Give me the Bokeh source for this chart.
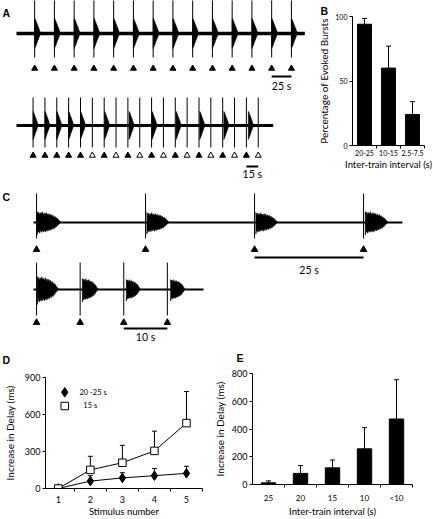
from bokeh.plotting import figure
from bokeh.models import (Range1d, FixedTicker, Whisker, TeeHead, Title,
                          ColumnDataSource)
from bokeh.layouts import column, row
from bokeh.embed import file_html
from bokeh.resources import INLINE
from bokeh.core.properties import value

# ---------------------------------------------------------------- data
# Panel A, upper record (trains every 25 s); times in s from record start
a1_record = [0, 365]
a1_stim = [23, 48, 73, 98, 123, 148, 173, 198, 223, 248, 273, 298, 323, 348]
a1_evoked = [1, 1, 1, 1, 1, 1, 1, 1, 1, 1, 1, 1, 1, 1]
a1_delay = [0, 0, 0, 0, 0, 0, 0, 0, 0, 0, 0, 0, 0, 0]
a1_scale_s = 25

# Panel A, lower record (trains every 15 s); 0 = no burst evoked
a2_record = [0, 325]
a2_stim = [21, 36, 51, 66, 81, 96, 111, 126, 141, 156,
           171, 186, 201, 216, 231, 246, 261, 276, 291, 306]
a2_evoked = [1, 1, 1, 1, 1, 0, 1, 0, 1, 0, 1, 0, 1, 0, 1, 0, 1, 0, 1, 0]
a2_delay = [0, 0, 0, 0, 0, 0, 0.5, 0, 1.5, 0, 0.5, 0, 1.0, 0, 1.0, 0, 1.5, 0, 2.5, 0]
a2_scale_s = 15

# Panel B
b_cats = ["20-25", "10-15", "2.5-7.5"]
b_mean = [94, 60, 24]
b_err = [4.5, 17, 10]

# Panel C, upper record (25 s)
c1_record = [0, 84.6]
c1_stim = [0.7, 25.7, 50.7, 75.7]
c1_delay = [0.1, 0.3, 0.3, 0.4]
c1_dur = [5.5, 5.1, 5.0, 5.2]
c1_amp = [11, 10, 10, 11]
c1_scale_s = 25

# Panel C, lower record (10 s)
c2_record = [0, 39]
c2_stim = [0.7, 10.7, 20.7, 30.7]
c2_delay = [0.15, 0.5, 0.6, 0.75]
c2_dur = [4.9, 3.6, 3.2, 3.3]
c2_amp = [13, 11, 10, 10]
c2_scale_s = 10

# burst envelopes (normalised time, upper / lower amplitude)
envA_t = [0.0, 0.1, 0.25, 0.4, 0.55, 0.7, 0.85, 1.0]
envA_up = [1.0, 0.95, 0.8, 0.65, 0.5, 0.35, 0.18, 0.0]
envA_lo = [1.0, 0.9, 0.78, 0.6, 0.45, 0.3, 0.15, 0.0]

envC_t = [0, .03, .07, .10, .14, .18, .22, .26, .30, .34, .38, .42, .46,
          .50, .54, .58, .62, .66, .70, .74, .78, .82, .86, .90, .94, 1.0]
envC_up = [1.0, .74, .95, .70, .90, .76, .98, .72, .86, .68, .90, .66, .82,
           .62, .78, .58, .72, .52, .62, .44, .52, .34, .38, .20, .18, 0]
envC_lo = [1.15, .88, .76, .97, .70, .90, .74, .84, .66, .88, .68, .80, .62,
           .76, .58, .70, .52, .62, .46, .54, .36, .38, .24, .20, .08, 0]

# Panel D
d_stim = [1, 2, 3, 4, 5]
d_slow = [0, 60, 86, 104, 123]        # 20-25 s
d_slow_err = [0, 44, 42, 58, 57]
d_fast = [0, 151, 209, 305, 530]      # 15 s
d_fast_err = [0, 110, 141, 160, 256]
d_labels = ["20 -25 s", "\u00a0\u00a015 s"]

# Panel E
e_cats = ["25", "20", "15", "10", "<10"]
e_mean = [12, 80, 120, 257, 472]
e_err = [14, 57, 57, 153, 283]

# ---------------------------------------------------------------- style
INK = "#000000"
FONT = "Lato"
BOLD = "Liberation Sans"


def trace_fig(w, h, xr, yr):
    p = figure(width=w, height=h, x_range=Range1d(*xr), y_range=Range1d(*yr),
               x_axis_location=None, y_axis_location=None, title=None,
               output_backend="svg", toolbar_location=None, tools="",
               min_border=0, frame_align=False)
    p.min_border_left = p.min_border_right = 0
    p.min_border_top = p.min_border_bottom = 0
    p.outline_line_color = None
    p.grid.visible = False
    return p


def axis_fig(w, h, xr, yr, l, r, t, b):
    p = figure(width=w, height=h, x_range=Range1d(*xr), y_range=Range1d(*yr),
               title=None, output_backend="svg", toolbar_location=None, tools="",
               min_border_left=l, min_border_right=r, min_border_top=t,
               min_border_bottom=b, frame_align=False)
    p.outline_line_color = None
    p.grid.visible = False
    for ax in (p.xaxis[0], p.yaxis[0]):
        ax.axis_line_color = INK
        ax.axis_line_width = 1
        ax.major_tick_line_color = INK
        ax.minor_tick_line_color = INK
        ax.major_tick_in = 0
        ax.minor_tick_in = 0
        ax.major_label_text_font = FONT
        ax.major_label_text_color = INK
        ax.axis_label_text_font = FONT
        ax.axis_label_text_font_style = "normal"
        ax.axis_label_text_color = INK
    return p


def panel_title(p, text, offset, standoff):
    p.add_layout(Title(text=text, align="left", offset=offset, standoff=standoff,
                       text_font=BOLD, text_font_style="bold",
                       text_font_size="10.5px", text_color=INK), "above")


def panel_text(p, text, x, y):
    p.text(x=[x], y=[y], text=[text], text_baseline="middle", text_align="left",
           text_font=value(BOLD), text_font_style="bold",
           text_font_size="10.5px", text_color=INK)


def draw_record(p, base, record, stim, evoked, delay, dur, amp, env,
                up, down, lw, arrow_y, arrow_size, bar_s, bar_y, lab_y):
    et, eu, el = env
    n = len(stim)
    p.line(x=record, y=[base, base], line_color=INK, line_width=lw)
    xs, ys = [], []
    for s, ev, d, L, a in zip(stim, evoked, delay, dur, amp):
        if not ev:
            continue
        t0 = s + d
        tx = [t0 + L * e for e in et]
        xs.append(tx + tx[::-1])
        ys.append([base + a * u for u in eu] + [base - a * q for q in el][::-1])
    p.patches(xs, ys, fill_color=INK, line_color=INK, line_width=0.6)
    p.segment(x0=stim, y0=[base + up] * n, x1=stim, y1=[base - down] * n,
              line_color=INK, line_width=1)
    p.scatter(x=stim, y=[arrow_y] * n, marker="triangle", size=arrow_size,
              fill_color=[INK if e else "white" for e in evoked],
              line_color=INK, line_width=1)
    x0 = stim[-2]
    p.segment(x0=[x0], y0=[bar_y], x1=[x0 + bar_s], y1=[bar_y],
              line_color=INK, line_width=2)
    p.text(x=[x0 + bar_s / 2], y=[lab_y], text=["%d s" % bar_s],
           text_align="center", text_baseline="middle",
           text_font=value(FONT), text_font_size="10.5px", text_color=INK)


# ---------------------------------------------------------------- Panel A
PX_A = 0.79  # px per second
fa = trace_fig(312, 178, (-16 / PX_A, (312 - 16) / PX_A), (-145, 33))
envA = (envA_t, envA_up, envA_lo)
draw_record(fa, 0, a1_record, a1_stim, a1_evoked, a1_delay,
            [7.5] * len(a1_stim), [15] * len(a1_stim), envA, 36, 24, 3.5,
            -35, 6, a1_scale_s, -43, -52)
draw_record(fa, -92, a2_record, a2_stim, a2_evoked, a2_delay,
            [6.5] * len(a2_stim), [14] * len(a2_stim), envA, 28, 22, 3,
            -122, 6, a2_scale_s, -133, -140)
panel_text(fa, "A", -14 / PX_A, 21)

# ---------------------------------------------------------------- Panel B
fb = axis_fig(121, 178, (0.5, 3.5), (0, 100), 40, 9, 16, 33)
b_x = [1, 2, 3]
bsrc = ColumnDataSource(dict(x=b_x, top=b_mean,
                             upper=[m + e for m, e in zip(b_mean, b_err)]))
fb.vbar(x="x", top="top", width=0.58, source=bsrc, fill_color=INK, line_color=INK)
fb.add_layout(Whisker(base="x", lower="top", upper="upper", source=bsrc,
                      line_color=INK, line_width=1, lower_head=None,
                      upper_head=TeeHead(size=5, line_color=INK, line_width=1)))
xa = fb.xaxis[0]
xa.ticker = FixedTicker(ticks=b_x, minor_ticks=[1.5, 2.5, 3.5])
xa.major_label_overrides = {x: c for x, c in zip(b_x, b_cats)}
xa.major_tick_out = 0
xa.minor_tick_out = 3
xa.major_label_text_font_size = "7px"
xa.major_label_standoff = 1
xa.axis_label = "Inter-train interval (s)"
xa.axis_label_text_font_size = "9.5px"
xa.axis_label_standoff = 0
ya = fb.yaxis[0]
ya.ticker = FixedTicker(ticks=[0, 50, 100])
ya.major_tick_out = 3
ya.minor_tick_out = 0
ya.major_label_text_font_size = "7px"
ya.major_label_standoff = 2
ya.axis_label = "Percentage of Evoked Bursts"
ya.axis_label_text_font_size = "10px"
ya.axis_label_standoff = 2
panel_title(fb, "B", -32, 0)

# ---------------------------------------------------------------- Panel C
# (this canvas also carries the D / E panel letters just below the records)
PX_C = 4.36
fc = trace_fig(433, 189, (-33 / PX_C, (433 - 33) / PX_C), (-145, 44))
envC = (envC_t, envC_up, envC_lo)
draw_record(fc, 0, c1_record, c1_stim, [1] * 4, c1_delay, c1_dur, c1_amp, envC,
            29, 16, 2, -27, 6.5, c1_scale_s, -35, -47)
draw_record(fc, -67, c2_record, c2_stim, [1] * 4, c2_delay, c2_dur, c2_amp, envC,
            27, 26, 2, -100, 6.5, c2_scale_s, -106, -114)
panel_text(fc, "C", -31 / PX_C, 26)
panel_text(fc, "D", -31 / PX_C, -137)
panel_text(fc, "E", 203 / PX_C, -135.5)

# ---------------------------------------------------------------- Panel D
fd = axis_fig(210, 152, (0.6, 5.5), (0, 900), 40, 8, 10, 29)
fd.line(x=d_stim, y=d_fast, line_color=INK, line_width=1)
fd.line(x=d_stim, y=d_slow, line_color=INK, line_width=1)
for yv, ev in ((d_fast, d_fast_err), (d_slow, d_slow_err)):
    src = ColumnDataSource(dict(x=d_stim, y=yv, up=[a + b for a, b in zip(yv, ev)]))
    fd.add_layout(Whisker(base="x", lower="y", upper="up", source=src,
                          line_color=INK, line_width=1, lower_head=None,
                          upper_head=TeeHead(size=5, line_color=INK, line_width=1)))
fd.scatter(x=d_stim, y=d_slow, marker="diamond", size=9.5,
           fill_color=INK, line_color=INK)
fd.scatter(x=d_stim, y=d_fast, marker="square", size=7.5,
           fill_color="white", line_color=INK, line_width=1)
# legend key (upper-left corner of the plot area)
key_x = [1.2, 1.2]
key_y = [780, 669]
fd.scatter(x=key_x[:1], y=key_y[:1], marker="diamond", size=9.5,
           fill_color=INK, line_color=INK)
fd.scatter(x=key_x[1:], y=key_y[1:], marker="square", size=7.5,
           fill_color="white", line_color=INK, line_width=1)
fd.text(x=[1.66, 1.66], y=key_y, text=d_labels, text_baseline="middle",
        text_font=value(FONT), text_font_size="7.5px", text_color=INK)
xa = fd.xaxis[0]
xa.ticker = FixedTicker(ticks=d_stim, minor_ticks=[1.5, 2.5, 3.5, 4.5, 5.5])
xa.major_tick_out = 0
xa.minor_tick_out = 3
xa.major_label_text_font_size = "9px"
xa.major_label_standoff = 4
xa.axis_label = "Stimulus number"
xa.axis_label_text_font_size = "9.5px"
xa.axis_label_standoff = 0
ya = fd.yaxis[0]
ya.ticker = FixedTicker(ticks=[0, 300, 600, 900])
ya.major_tick_out = 3
ya.minor_tick_out = 0
ya.major_label_text_font_size = "9px"
ya.major_label_standoff = 2
ya.axis_label = "Increase in Delay (ms)"
ya.axis_label_text_font_size = "10px"
ya.axis_label_standoff = 6

# ---------------------------------------------------------------- Panel E
fe = axis_fig(223, 152, (0.5, 5.5), (0, 800), 42, 21, 6, 29)
e_x = [1, 2, 3, 4, 5]
esrc = ColumnDataSource(dict(x=e_x, top=e_mean,
                             upper=[m + e for m, e in zip(e_mean, e_err)]))
fe.vbar(x="x", top="top", width=0.45, source=esrc, fill_color=INK, line_color=INK)
fe.add_layout(Whisker(base="x", lower="top", upper="upper", source=esrc,
                      line_color=INK, line_width=1, lower_head=None,
                      upper_head=TeeHead(size=5, line_color=INK, line_width=1)))
xa = fe.xaxis[0]
xa.ticker = FixedTicker(ticks=e_x, minor_ticks=[1.5, 2.5, 3.5, 4.5, 5.5])
xa.major_label_overrides = {x: c for x, c in zip(e_x, e_cats)}
xa.major_tick_out = 0
xa.minor_tick_out = 3
xa.major_label_text_font_size = "8px"
xa.major_label_standoff = 5
xa.axis_label = "Inter-train interval (s)"
xa.axis_label_text_font_size = "9.5px"
xa.axis_label_standoff = 0
ya = fe.yaxis[0]
ya.ticker = FixedTicker(ticks=[0, 200, 400, 600, 800])
ya.major_tick_out = 3
ya.minor_tick_out = 0
ya.major_label_text_font_size = "9px"
ya.major_label_standoff = 2
ya.axis_label = "Increase in Delay (ms)"
ya.axis_label_text_font_size = "10px"
ya.axis_label_standoff = 3

layout = column(row(fa, fb), fc, row(fd, fe))
open("out.html", "w").write(file_html(layout, INLINE))
